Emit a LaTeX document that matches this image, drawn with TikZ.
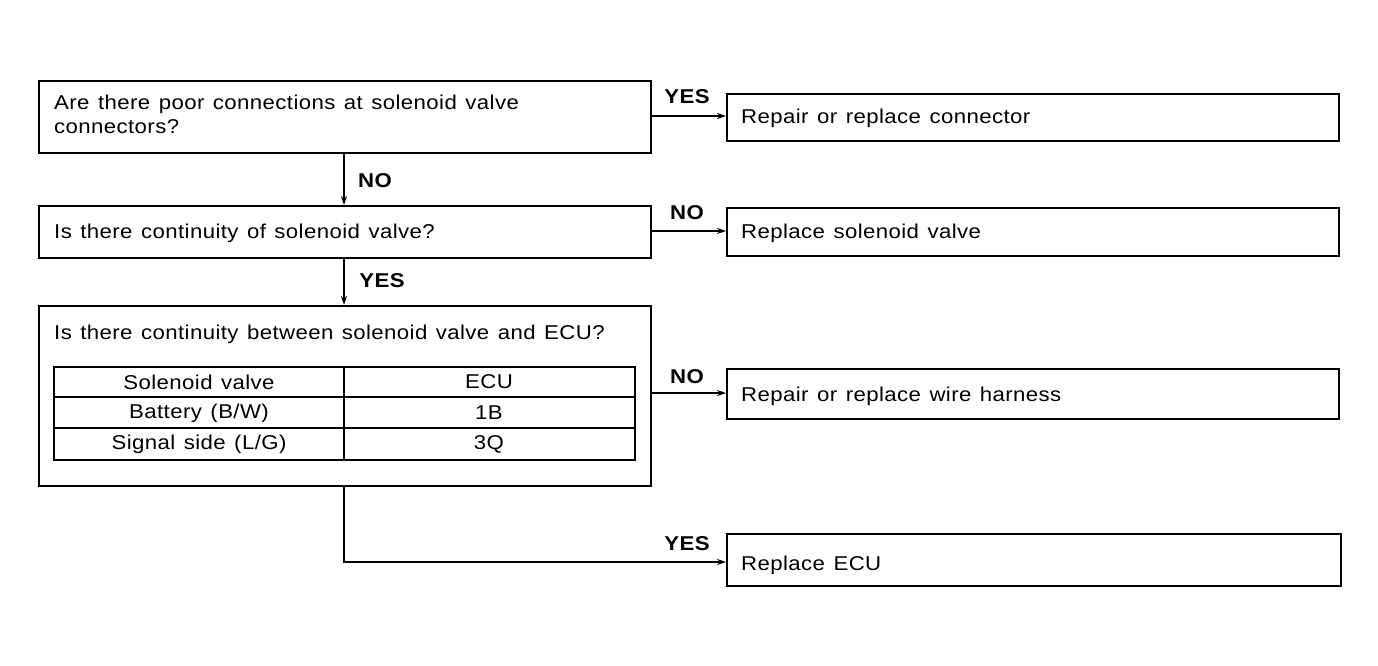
\documentclass[tikz,border=0pt]{standalone}
\usepackage{fontspec}
\setmainfont{Liberation Sans}[FakeStretch=1.11,LetterSpace=2,WordSpace=1.3]
\usetikzlibrary{arrows.meta}
\begin{document}
\begin{tikzpicture}[x=1pt,y=-1pt,
  box/.style={draw,line width=1.7pt},
  txt/.style={anchor=west,inner sep=0pt,font=\fontsize{20}{24}\selectfont,align=left},
  lbl/.style={inner sep=0pt,font=\fontsize{20}{22}\selectfont\bfseries},
  arr/.style={line width=1.7pt,-{Stealth[length=9pt,width=6pt]}},
  cell/.style={inner sep=0pt,font=\fontsize{20}{24}\selectfont}]
\useasboundingbox (0,0) rectangle (1378,665);
% left boxes
\node[box,minimum width=612pt,minimum height=72pt,inner sep=0pt,anchor=north west] (q1) at (38,80) {};
\node[box,minimum width=612pt,minimum height=52pt,inner sep=0pt,anchor=north west] (q2) at (38,205) {};
\node[box,minimum width=612pt,minimum height=180pt,inner sep=0pt,anchor=north west] (q3) at (38,305) {};
% right boxes
\node[box,minimum width=612pt,minimum height=47pt,inner sep=0pt,anchor=north west] (r1) at (726,93) {};
\node[box,minimum width=612pt,minimum height=48pt,inner sep=0pt,anchor=north west] (r2) at (726,207) {};
\node[box,minimum width=612pt,minimum height=50pt,inner sep=0pt,anchor=north west] (r3) at (726,368) {};
\node[box,minimum width=614pt,minimum height=52pt,inner sep=0pt,anchor=north west] (r4) at (726,533) {};
% texts
\node[txt,anchor=north west] (t1) at (54,95) {Are there poor connections at solenoid valve\\connectors?};
\node[txt] (t2) at (54,233) {Is there continuity of solenoid valve?};
\node[txt] (t3) at (54,334) {Is there continuity between solenoid valve and ECU?};
\node[txt] (tr1) at (741,118) {Repair or replace connector};
\node[txt] (tr2) at (741,233) {Replace solenoid valve};
\node[txt] (tr3) at (741,396) {Repair or replace wire harness};
\node[txt] (tr4) at (741,565) {Replace ECU};
% table
\draw[line width=2.4pt] (54,367) rectangle (635,460);
\draw[line width=1.7pt] (54,397) -- (635,397) (54,428) -- (635,428) (344,367) -- (344,460);
\node[cell] (c11) at (199,382) {Solenoid valve};
\node[cell] (c12) at (489,382) {ECU};
\node[cell] (c21) at (199,413) {Battery (B/W)};
\node[cell] (c22) at (489,413) {1B};
\node[cell] (c31) at (199,444) {Signal side (L/G)};
\node[cell] (c32) at (489,444) {3Q};
% connectors
\draw[arr] (q1.east |- 0,116) -- (r1.west |- 0,116);
\draw[arr] (q2.east |- 0,231) -- (r2.west |- 0,231);
\draw[arr] (q3.east |- 0,393) -- (r3.west |- 0,393);
\draw[arr] (q1.south -| 344,0) -- (q2.north -| 344,0);
\draw[arr] (q2.south -| 344,0) -- (q3.north -| 344,0);
\draw[arr] (q3.south -| 344,0) -- (344,562) -- (r4.west |- 0,562);
% labels
\node[lbl] (y1) at (687,97) {YES};
\node[lbl] (n1) at (687,213) {NO};
\node[lbl] (n2) at (687,377) {NO};
\node[lbl] (n3) at (375,181) {NO};
\node[lbl] (y2) at (382,281) {YES};
\node[lbl] (y3) at (687,544) {YES};
\end{tikzpicture}
\end{document}
